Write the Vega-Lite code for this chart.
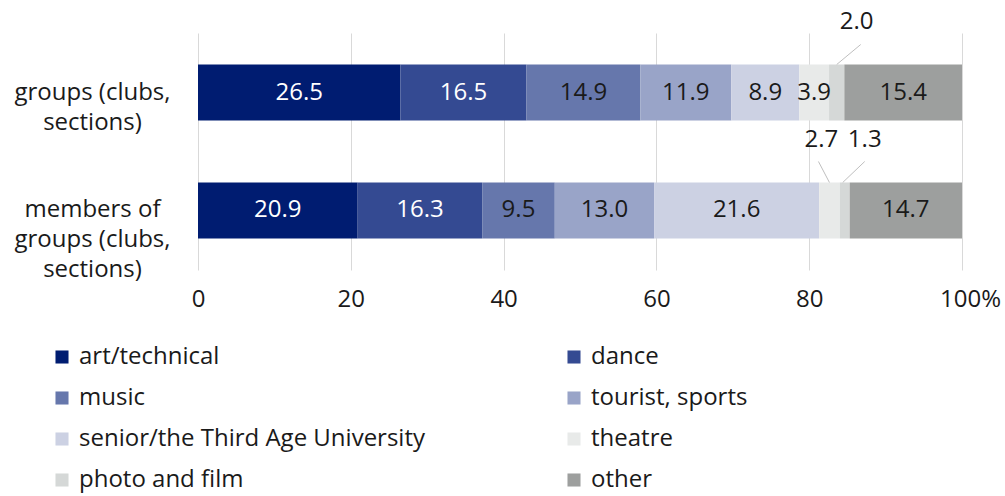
{
  "$schema": "https://vega.github.io/schema/vega-lite/v6.json",
  "width": 764,
  "height": 237,
  "autosize": {"type": "none"},
  "padding": {"left": 198, "top": 33, "right": 43, "bottom": 226},
  "background": "white",
  "config": {
    "font": "Open Sans",
    "view": {"stroke": null},
    "text": {"font": "Open Sans", "fontSize": 24}
  },
  "data": {
    "values": [
      {"category": "groups (clubs, sections)", "type": "art/technical", "order": 1, "value": 26.5},
      {"category": "groups (clubs, sections)", "type": "dance", "order": 2, "value": 16.5},
      {"category": "groups (clubs, sections)", "type": "music", "order": 3, "value": 14.9},
      {"category": "groups (clubs, sections)", "type": "tourist, sports", "order": 4, "value": 11.9},
      {"category": "groups (clubs, sections)", "type": "senior/the Third Age University", "order": 5, "value": 8.9},
      {"category": "groups (clubs, sections)", "type": "theatre", "order": 6, "value": 3.9},
      {"category": "groups (clubs, sections)", "type": "photo and film", "order": 7, "value": 2.0},
      {"category": "groups (clubs, sections)", "type": "other", "order": 8, "value": 15.4},
      {"category": "members of groups (clubs, sections)", "type": "art/technical", "order": 1, "value": 20.9},
      {"category": "members of groups (clubs, sections)", "type": "dance", "order": 2, "value": 16.3},
      {"category": "members of groups (clubs, sections)", "type": "music", "order": 3, "value": 9.5},
      {"category": "members of groups (clubs, sections)", "type": "tourist, sports", "order": 4, "value": 13.0},
      {"category": "members of groups (clubs, sections)", "type": "senior/the Third Age University", "order": 5, "value": 21.6},
      {"category": "members of groups (clubs, sections)", "type": "theatre", "order": 6, "value": 2.7},
      {"category": "members of groups (clubs, sections)", "type": "photo and film", "order": 7, "value": 1.3},
      {"category": "members of groups (clubs, sections)", "type": "other", "order": 8, "value": 14.7}
    ]
  },
  "transform": [
    {"stack": "value", "groupby": ["category"], "sort": [{"field": "order"}], "as": ["x0", "x1"]},
    {"calculate": "(datum.x0 + datum.x1) / 2", "as": "mid"}
  ],
  "encoding": {
    "y": {
      "field": "category",
      "type": "nominal",
      "sort": ["groups (clubs, sections)", "members of groups (clubs, sections)"],
      "scale": {"paddingInner": 0.525, "paddingOuter": 0.267},
      "axis": {
        "title": null,
        "domain": false,
        "ticks": false,
        "grid": false,
        "labelFont": "Open Sans",
        "labelFontSize": 24,
        "labelColor": "#1a1a1a",
        "labelAlign": "center",
        "labelBaseline": "middle",
        "labelPadding": 106,
        "labelLineHeight": 30,
        "labelLimit": 400,
        "labelExpr": "datum.value == 'groups (clubs, sections)' ? ['groups (clubs,', 'sections)'] : ['members of', 'groups (clubs,', 'sections)']"
      }
    }
  },
  "layer": [
    {
      "mark": {"type": "bar"},
      "encoding": {
        "x": {
          "field": "x0",
          "type": "quantitative",
          "scale": {"domain": [0, 100], "nice": false},
          "axis": {
            "title": null,
            "values": [0, 20, 40, 60, 80, 100],
            "domain": false,
            "ticks": false,
            "grid": true,
            "gridColor": "#d9d9d9",
            "gridWidth": 1,
            "labelFlush": false,
            "labelFont": "Open Sans",
            "labelFontSize": 24,
            "labelColor": "#1a1a1a",
            "labelPadding": 17,
            "labelOffset": {"condition": {"test": "datum.value == 100", "value": 8}, "value": 0},
            "labelExpr": "datum.value == 100 ? '100%' : datum.label"
          }
        },
        "x2": {"field": "x1"},
        "color": {
          "field": "type",
          "type": "nominal",
          "scale": {
            "domain": ["art/technical", "dance", "music", "tourist, sports", "senior/the Third Age University", "theatre", "photo and film", "other"],
            "range": ["#001c71", "#344a92", "#6677ac", "#99a4c8", "#ccd1e3", "#e8eae9", "#d5d8d7", "#9d9f9e"]
          },
          "legend": {
            "title": null,
            "orient": "none",
            "legendX": -148,
            "legendY": 312,
            "direction": "horizontal",
            "columns": 2,
            "columnPadding": 137,
            "rowPadding": 17,
            "symbolType": "square",
            "symbolSize": 170,
            "symbolStrokeWidth": 0,
            "symbolOpacity": 1,
            "labelFont": "Open Sans",
            "labelFontSize": 24,
            "labelColor": "#1a1a1a",
            "labelOffset": 5,
            "labelLimit": 500
          }
        }
      }
    },
    {
      "transform": [{"filter": "datum.value >= 3"}],
      "mark": {"type": "text", "baseline": "middle", "align": "center"},
      "encoding": {
        "x": {"field": "mid", "type": "quantitative"},
        "text": {"field": "value", "type": "quantitative", "format": ".1f"},
        "color": {"condition": {"test": "datum.order <= 2", "value": "#ffffff"}, "value": "#1a1a1a"}
      }
    },
    {
      "transform": [{"filter": "datum.value < 3 && datum.order == 7 && datum.category == 'groups (clubs, sections)'"}],
      "layer": [
        {
          "mark": {"type": "rule", "color": "#bfbfbf", "strokeWidth": 1, "yOffset": -28, "x2Offset": 24, "y2Offset": -48},
          "encoding": {"x": {"field": "mid", "type": "quantitative"}, "x2": {"field": "mid"}, "y2": {"field": "category"}}
        },
        {
          "mark": {"type": "text", "baseline": "middle", "align": "center", "dx": 20, "dy": -71, "color": "#1a1a1a"},
          "encoding": {"x": {"field": "mid", "type": "quantitative"}, "text": {"field": "value", "type": "quantitative", "format": ".1f"}}
        }
      ]
    },
    {
      "transform": [{"filter": "datum.value < 3 && datum.order == 6"}],
      "layer": [
        {
          "mark": {"type": "rule", "color": "#bfbfbf", "strokeWidth": 1, "yOffset": -28, "x2Offset": -11, "y2Offset": -49},
          "encoding": {"x": {"field": "mid", "type": "quantitative"}, "x2": {"field": "mid"}, "y2": {"field": "category"}}
        },
        {
          "mark": {"type": "text", "baseline": "middle", "align": "center", "dx": -8, "dy": -70, "color": "#1a1a1a"},
          "encoding": {"x": {"field": "mid", "type": "quantitative"}, "text": {"field": "value", "type": "quantitative", "format": ".1f"}}
        }
      ]
    },
    {
      "transform": [{"filter": "datum.value < 3 && datum.order == 7 && datum.category == 'members of groups (clubs, sections)'"}],
      "layer": [
        {
          "mark": {"type": "rule", "color": "#bfbfbf", "strokeWidth": 1, "yOffset": -28, "xOffset": -2, "x2Offset": 20, "y2Offset": -49},
          "encoding": {"x": {"field": "mid", "type": "quantitative"}, "x2": {"field": "mid"}, "y2": {"field": "category"}}
        },
        {
          "mark": {"type": "text", "baseline": "middle", "align": "center", "dx": 20, "dy": -70, "color": "#1a1a1a"},
          "encoding": {"x": {"field": "mid", "type": "quantitative"}, "text": {"field": "value", "type": "quantitative", "format": ".1f"}}
        }
      ]
    }
  ]
}
